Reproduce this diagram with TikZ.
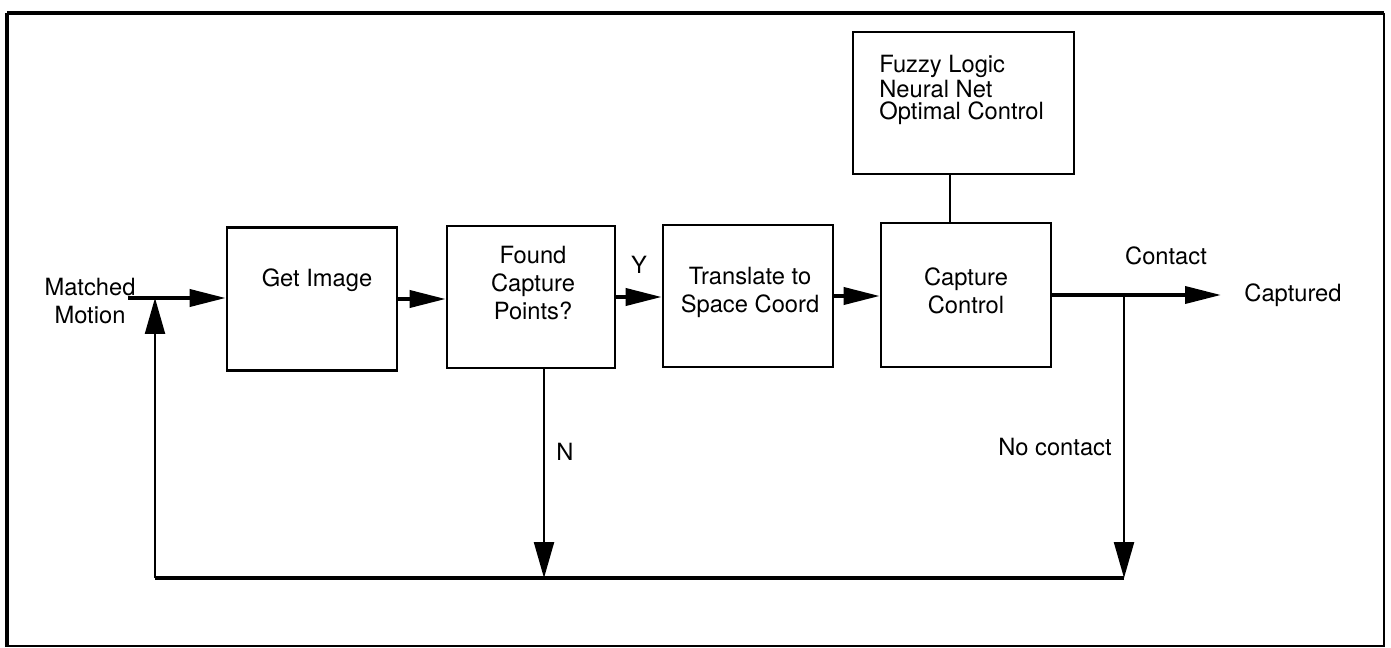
\documentclass[tikz,border=0pt]{standalone}
\usepackage{fontspec}
\setmainfont{TeX Gyre Heros}
\usetikzlibrary{positioning,arrows.meta,calc}
\tikzset{
 blk/.style={draw, line width=1.5pt, minimum width=3.4cm, minimum height=2.86cm, inner sep=0pt},
 txt/.style={font=\fontsize{13.5}{16}\selectfont, align=center, inner sep=0pt},
 flow/.style={line width=2.1pt, -{Triangle[length=0.72cm, width=0.34cm]}},
 back/.style={line width=1.3pt},
 drop/.style={back, -{Triangle[length=0.72cm, width=0.4cm]}},
}

\begin{document}
\begin{tikzpicture}[x=0.02cm, y=-0.02cm]
\useasboundingbox (0,0) rectangle (1391,648);
% frame
\draw[line width=2.8pt] (7,13) -- (1384,13);
\draw[line width=2.2pt] (7,13) -- (7,647);
\draw[line width=1.5pt] (1384,13) -- (1384,646) -- (7,646);
% blocks
\node[blk] (get) at (312,299) {};
\node[blk, minimum width=3.36cm, minimum height=2.84cm] (found) at (531,297) {};
\node[blk, minimum height=2.84cm] (trans) at (748,296) {};
\node[blk, minimum height=2.88cm] (cap) at (966,295) {};
\node[blk, minimum width=4.42cm, minimum height=2.84cm] (fuzzy) at (963.5,103) {};
% block texts
\node[txt] (getT) at (317,280) {Get Image};
\node[txt] (foundT) at (533,283) {Found\\Capture\\Points?};
\node[txt] (transT) at (750,292) {Translate to\\Space Coord};
\node[txt] (capT) at (966,291) {Capture\\Control};
\node[txt, align=left, anchor=west, font=\fontsize{13.5}{12.5}\selectfont] (fuzzyT) at (879,90) {Fuzzy Logic\\Neural Net\\Optimal Control};
% labels
\node[txt] (matched) at (90,301) {Matched\\Motion};
\node[txt] (yT) at (639,265) {Y};
\node[txt] (nT) at (565,452) {N};
\node[txt, anchor=east] (nocT) at (1112,447) {No contact};
\node[txt] (contT) at (1166,256) {Contact};
\node[txt, anchor=west] (captT) at (1244,295) {Captured};
% points
\coordinate (inS) at (128,298);
\coordinate (capOut) at (1221,295);
\coordinate (fbL) at (155,578);
\coordinate (fbR) at (1124,578);
% forward path
\draw[flow] (inS) -- (inS -| get.west);
\draw[flow] (get.east) -- (get.east -| found.west);
\draw[flow] (found.east) -- (found.east -| trans.west);
\draw[flow] (trans.east) -- (trans.east -| cap.west);
\draw[flow] (cap.east) -- (capOut);
\draw[back] ([xshift=-0.27cm]fuzzy.south) -- ([xshift=-0.27cm]fuzzy.south |- cap.north);
% feedback
\draw[drop] ([xshift=0.26cm]found.south) -- ([xshift=0.26cm]found.south |- fbR);
\draw[drop] (cap.east -| fbR) -- (fbR);
\draw[line width=2pt] (fbR) -- (fbL);
\draw[drop] (fbL) -- (fbL |- inS);
\end{tikzpicture}
\end{document}
